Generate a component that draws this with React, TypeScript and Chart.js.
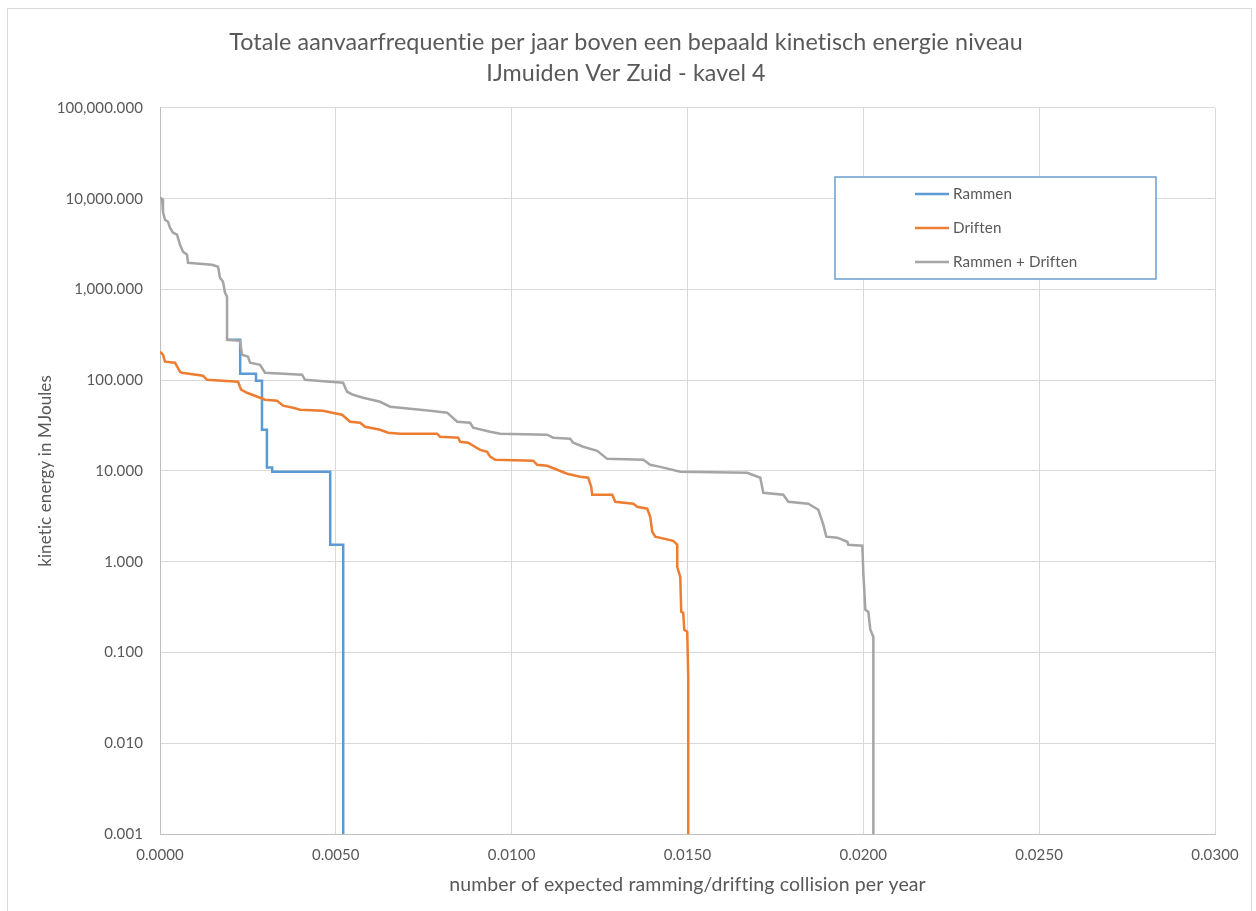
import React, { useEffect, useRef } from "react";
import { Chart, registerables } from "chart.js";

Chart.register(...registerables);

const TITLE_LINES = [
  "Totale aanvaarfrequentie per jaar boven een bepaald kinetisch energie niveau",
  "IJmuiden Ver Zuid - kavel 4",
];
const X_TITLE = "number of expected ramming/drifting collision per year";
const Y_TITLE = "kinetic energy in MJoules";
const X_TICKS = [0, 0.005, 0.01, 0.015, 0.02, 0.025, 0.03];
const Y_TICKS = [0.001, 0.01, 0.1, 1, 10, 100, 1000, 10000, 100000];
const SERIES_LABELS = ["Rammen", "Driften", "Rammen + Driften"];
const SERIES_COLORS = ["#5b9bd5", "#ed7d31", "#a5a5a5"];

const rammenX = [0.00191, 0.00228, 0.00228, 0.00273, 0.00273, 0.0029, 0.0029, 0.00304, 0.00304, 0.00319, 0.00319, 0.00484, 0.00484, 0.00521, 0.00521];
const rammenY = [279, 279, 118, 118, 98.7, 98.7, 28.5, 28.5, 10.9, 10.9, 9.8, 9.8, 1.54, 1.54, 0.001];

const driftenX = [
  0, 0.000085, 0.000142, 0.000427, 0.000569, 0.000626, 0.001223, 0.001337, 0.002219, 0.002304,
  0.002475, 0.002845, 0.002987, 0.003329, 0.003499, 0.003784, 0.003983, 0.004637, 0.004893, 0.005178,
  0.005405, 0.00569, 0.005832, 0.006259, 0.006486, 0.006828, 0.00788, 0.007966, 0.008478, 0.008535,
  0.008762, 0.009104, 0.009303, 0.009388, 0.009531, 0.010612, 0.010725, 0.01101, 0.011437, 0.011579,
  0.011949, 0.012176, 0.012262, 0.01229, 0.01286, 0.012945, 0.013457, 0.01357, 0.013855, 0.01394,
  0.013997, 0.014083, 0.014595, 0.014708, 0.014708, 0.014794, 0.014822, 0.014879, 0.014908, 0.014993,
  0.015021, 0.015021,
];
const driftenY = [
  206, 191, 160, 156, 124, 121, 112, 101, 96.3, 78.6,
  72.8, 64.1, 61.0, 59.5, 52.4, 49.8, 47.3, 46.1, 43.9, 41.7,
  34.9, 34.0, 30.7, 28.5, 26.4, 25.7, 25.7, 23.8, 23.3, 21.0,
  20.5, 17.1, 16.3, 14.4, 13.3, 13.0, 11.7, 11.4, 9.8, 9.33,
  8.65, 8.43, 6.7, 5.47, 5.47, 4.58, 4.36, 4.04, 3.84, 3.13,
  2.14, 1.89, 1.7, 1.54, 0.88, 0.68, 0.281, 0.274, 0.178, 0.169,
  0.054, 0.001,
];

const totaalX = [
  0, 0.000057, 0.000085, 0.000142, 0.000228, 0.000284, 0.00037, 0.000484, 0.000569, 0.000654,
  0.000768, 0.000797, 0.001479, 0.00165, 0.001707, 0.001792, 0.001849, 0.001906, 0.001906, 0.002276,
  0.002333, 0.002504, 0.00256, 0.002845, 0.002987, 0.00404, 0.004125, 0.004836, 0.005206, 0.00532,
  0.005491, 0.005775, 0.006259, 0.006543, 0.006828, 0.007681, 0.008165, 0.00845, 0.008819, 0.008905,
  0.009388, 0.009673, 0.01101, 0.01118, 0.011664, 0.01175, 0.012034, 0.012432, 0.012717, 0.013741,
  0.01394, 0.014225, 0.014794, 0.0167, 0.01707, 0.017155, 0.017724, 0.017866, 0.018435, 0.01872,
  0.018862, 0.018947, 0.01926, 0.019545, 0.019573, 0.019972, 0.02, 0.020057, 0.020142, 0.020199,
  0.020285, 0.020285, 0.020285,
];
const totaalY = [
  10250, 10000, 7190, 5870, 5580, 4790, 4220, 4010, 3110, 2610,
  2420, 1970, 1875, 1780, 1348, 1217, 921, 832, 279, 272,
  191, 182, 156, 148, 121, 115, 101, 96.3, 93.8, 74.7,
  69.2, 64.1, 57.9, 51.1, 49.8, 46.1, 43.9, 34.9, 34.0, 30.0,
  27.1, 25.7, 25.1, 23.3, 22.7, 20.5, 18.5, 16.7, 13.6, 13.3,
  11.7, 11.1, 9.8, 9.57, 8.43, 5.76, 5.47, 4.58, 4.36, 3.74,
  2.56, 1.89, 1.84, 1.66, 1.54, 1.5, 0.756, 0.296, 0.281, 0.178,
  0.149, 0.054, 0.001,
];

const FONT = "Lato, 'Open Sans', sans-serif";
const TEXT_COLOR = "#595959";

function toPoints(xs: number[], ys: number[]) {
  return xs.map((x, i) => ({ x, y: ys[i] }));
}

const noLigatures = {
  id: "noLigatures",
  beforeDraw(chart: any) {
    const ctx = chart.ctx as any;
    try {
      ctx.textRendering = "optimizeSpeed";
      ctx.letterSpacing = "0.1px";
    } catch (e) {
      /* ignore */
    }
  },
};

const boxLegend = {
  id: "boxLegend",
  afterDraw(chart: any, _args: any, opts: any) {
    const { ctx } = chart;
    ctx.save();
    ctx.fillStyle = "#ffffff";
    ctx.fillRect(opts.x, opts.y, opts.w, opts.h);
    ctx.strokeStyle = opts.borderColor;
    ctx.lineWidth = 1.5;
    ctx.strokeRect(opts.x, opts.y, opts.w, opts.h);
    chart.data.datasets.forEach((ds: any, i: number) => {
      const y = opts.y + opts.firstRow + i * opts.rowGap;
      ctx.strokeStyle = ds.borderColor;
      ctx.lineWidth = 2.5;
      ctx.beginPath();
      ctx.moveTo(opts.lineX, y);
      ctx.lineTo(opts.lineX + opts.lineLen, y);
      ctx.stroke();
      ctx.fillStyle = TEXT_COLOR;
      ctx.font = `${opts.fontSize}px ${FONT}`;
      ctx.textBaseline = "middle";
      ctx.textAlign = "left";
      ctx.fillText(ds.label, opts.lineX + opts.lineLen + 4, y);
    });
    ctx.restore();
  },
};

export default function App() {
  const ref = useRef<HTMLCanvasElement | null>(null);

  useEffect(() => {
    if (!ref.current) return;
    const seriesX = [rammenX, driftenX, totaalX];
    const seriesY = [rammenY, driftenY, totaalY];
    const chart = new Chart(ref.current, {
      type: "scatter",
      data: {
        datasets: SERIES_LABELS.map((label, i) => ({
          label,
          data: toPoints(seriesX[i], seriesY[i]),
          showLine: true,
          borderColor: SERIES_COLORS[i],
          backgroundColor: SERIES_COLORS[i],
          borderWidth: 2.5,
          pointRadius: 0,
          pointHoverRadius: 0,
          order: 2 - i,
        })),
      },
      options: {
        responsive: false,
        animation: false,
        layout: { padding: { left: 37, right: 41, top: 0, bottom: 11 } },
        plugins: {
          legend: { display: false },
          tooltip: { enabled: false },
          title: {
            display: true,
            text: TITLE_LINES,
            color: TEXT_COLOR,
            font: { family: FONT, size: 23.3, weight: "normal", lineHeight: 1.33 },
            padding: { top: 27, bottom: 19 },
          },
          boxLegend: {
            x: 835,
            y: 177,
            w: 321,
            h: 102,
            borderColor: "#6a9fcf",
            firstRow: 17,
            rowGap: 34,
            lineX: 915,
            lineLen: 34,
            fontSize: 15.2,
          },
        } as any,
        scales: {
          x: {
            type: "linear",
            min: 0,
            max: 0.03,
            afterBuildTicks: (scale: any) => {
              scale.ticks = X_TICKS.map((v) => ({ value: v }));
            },
            afterFit: (scale: any) => {
              scale.height = 66;
            },
            ticks: {
              autoSkip: false,
              maxRotation: 0,
              color: TEXT_COLOR,
              font: { family: FONT, size: 15 },
              padding: 12,
              callback: (v: any) => Number(v).toFixed(4),
            },
            grid: { color: "#d9d9d9", drawTicks: false, lineWidth: 1 },
            border: { color: "#bfbfbf", width: 1 },
            title: {
              display: true,
              text: X_TITLE,
              color: TEXT_COLOR,
              font: { family: FONT, size: 19.5 },
              padding: { top: 4, bottom: 4 },
            },
          },
          y: {
            type: "logarithmic",
            min: 0.001,
            max: 100000,
            afterBuildTicks: (scale: any) => {
              scale.ticks = Y_TICKS.map((v) => ({ value: v }));
            },
            afterFit: (scale: any) => {
              scale.width = 123;
            },
            ticks: {
              autoSkip: false,
              color: TEXT_COLOR,
              font: { family: FONT, size: 15 },
              padding: 17,
              callback: (v: any) =>
                Number(v).toLocaleString("en-US", {
                  minimumFractionDigits: 3,
                  maximumFractionDigits: 3,
                }),
            },
            grid: { color: "#d9d9d9", drawTicks: false, lineWidth: 1 },
            border: { color: "#bfbfbf", width: 1 },
            title: {
              display: true,
              text: Y_TITLE,
              color: TEXT_COLOR,
              font: { family: FONT, size: 17 },
              padding: { top: -2, bottom: 4 },
            },
          },
        },
      } as any,
      plugins: [noLigatures, boxLegend],
    });
    return () => chart.destroy();
  }, []);

  return (
    <div
      style={{
        position: "absolute",
        left: 0,
        top: 0,
        width: 1256,
        height: 911,
        overflow: "hidden",
        background: "#ffffff",
      }}
    >
      <div
        style={{
          position: "absolute",
          left: 7,
          top: 8,
          width: 1245,
          height: 920,
          border: "1px solid #d9d9d9",
          boxSizing: "border-box",
          pointerEvents: "none",
        }}
      />
      <canvas
        ref={ref}
        width={1256}
        height={911}
        style={{ position: "absolute", left: 0, top: 0, width: 1256, height: 911 }}
      />
    </div>
  );
}
